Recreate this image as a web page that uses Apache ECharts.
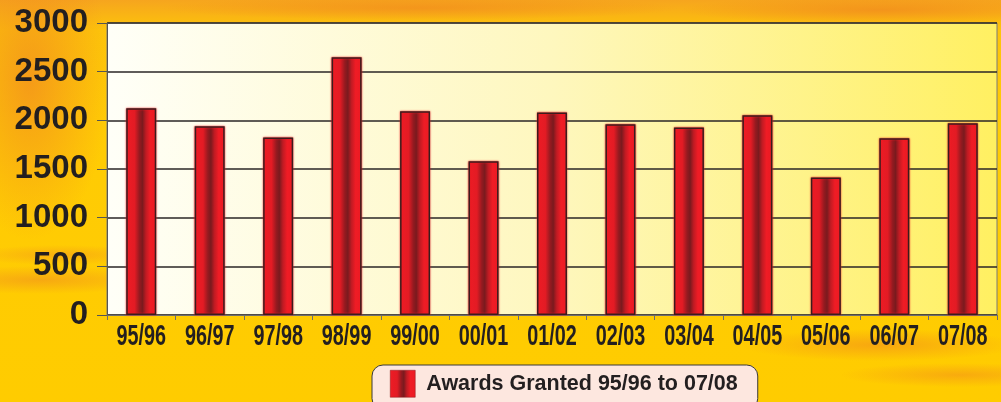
<!DOCTYPE html>
<html>
<head>
<meta charset="utf-8">
<script src="https://cdn.jsdelivr.net/npm/echarts@6/dist/echarts.min.js"></script>
<style>
html,body{margin:0;padding:0;width:1001px;height:402px;overflow:hidden;}
body{
  background:
    radial-gradient(ellipse 120px 14px at 40px 280px, rgba(240,140,30,0.55), rgba(240,140,30,0) 100%),
    radial-gradient(ellipse 90px 10px at 60px 255px, rgba(240,140,30,0.45), rgba(240,140,30,0) 100%),
    radial-gradient(ellipse 140px 16px at 880px 345px, rgba(240,130,30,0.5), rgba(240,130,30,0) 100%),
    radial-gradient(ellipse 120px 12px at 960px 375px, rgba(240,130,30,0.45), rgba(240,130,30,0) 100%),
    radial-gradient(ellipse 200px 14px at 880px 10px, rgba(240,130,30,0.6), rgba(240,130,30,0) 100%),
    radial-gradient(ellipse 260px 12px at 420px 8px, rgba(240,130,30,0.55), rgba(240,130,30,0) 100%),
    radial-gradient(ellipse 80px 160px at 30px 80px, rgba(242,140,30,0.75), rgba(242,140,30,0) 100%),
    linear-gradient(180deg, #F6A51E 0px, #FDC40A 30px, #FFCB05 120px, #FFCC00 402px);
}
#chart{width:1001px;height:402px;}
</style>
</head>
<body>
<div id="chart"></div>
<script>
const categories = ['95/96','96/97','97/98','98/99','99/00','00/01','01/02','02/03','03/04','04/05','05/06','06/07','07/08'];
const awards = [2125, 1940, 1824, 2647, 2094, 1580, 2081, 1960, 1926, 2053, 1412, 1816, 1971];
const yTicks = [0, 500, 1000, 1500, 2000, 2500, 3000];
const seriesName = 'Awards Granted 95/96 to 07/08';

const chart = echarts.init(document.getElementById('chart'), null, {renderer: 'canvas'});
const barGrad = new echarts.graphic.LinearGradient(0, 0, 1, 0, [
  {offset: 0, color: '#EE1C25'},
  {offset: 0.28, color: '#E31B24'},
  {offset: 0.44, color: '#951A20'},
  {offset: 0.54, color: '#7A1A1E'},
  {offset: 0.66, color: '#C01B23'},
  {offset: 0.8, color: '#EF1C25'},
  {offset: 1, color: '#EC1C24'}
]);
chart.setOption({
  backgroundColor: 'transparent',
  animation: false,
  grid: {
    left: 107, right: 4, top: 23, bottom: 87,
    show: true,
    borderWidth: 1,
    borderColor: '#7a7a7a',
    backgroundColor: new echarts.graphic.LinearGradient(0, 0, 1, 0, [
      {offset: 0, color: '#FFFFF8'},
      {offset: 0.5, color: '#FEF7BE'},
      {offset: 1, color: '#FFF061'}
    ])
  },
  legend: {
    data: [seriesName],
    left: 372, top: 365,
    padding: [5, 20, 12, 18],
    backgroundColor: '#FDE7DF',
    borderColor: '#3a3a3a',
    borderWidth: 1,
    borderRadius: 11,
    itemWidth: 25,
    itemHeight: 27,
    icon: 'rect',
    itemStyle: {borderColor: '#8a1a1e', borderWidth: 0.5},
    textStyle: {
      fontFamily: '"Liberation Sans", Arial, sans-serif',
      fontWeight: 'bold',
      fontSize: 21.5,
      color: '#231F20',
      padding: [0, 0, 0, 6]
    }
  },
  xAxis: {
    type: 'category',
    data: categories,
    axisLine: {lineStyle: {color: '#6e6e6e', width: 1}},
    axisTick: {show: true, length: 5, alignWithLabel: false, lineStyle: {color: '#6e6e6e'}},
    axisLabel: {show: false, interval: 0},
    splitLine: {show: false}
  },
  yAxis: {
    type: 'value',
    min: yTicks[0],
    max: yTicks[yTicks.length - 1],
    interval: yTicks[1] - yTicks[0],
    axisLine: {show: true, lineStyle: {color: '#555', width: 1}},
    axisTick: {show: true, length: 10, lineStyle: {color: '#555'}},
    axisLabel: {
      margin: 19,
      formatter: function (v) { return String(v); },
      fontFamily: '"Liberation Sans", Arial, sans-serif',
      fontWeight: 'bold',
      fontSize: 33,
      color: '#231F20'
    },
    splitLine: {show: true, lineStyle: {color: '#2a2626', width: 1.5}}
  },
  series: [{
    name: seriesName,
    type: 'bar',
    data: awards,
    barWidth: 30,
    itemStyle: {
      color: barGrad,
      borderColor: '#3b1c1d',
      borderWidth: 1.5,
      shadowColor: '#EE1C25',
      shadowBlur: 2
    }
  }, {
    // condensed category labels drawn under the x axis
    name: 'xlabels',
    type: 'custom',
    silent: true,
    clip: false,
    data: categories.map(function (c, i) { return [i, 0]; }),
    renderItem: function (params, api) {
      const p = api.coord([api.value(0), 0]);
      return {
        type: 'text',
        x: p[0],
        y: p[1] + 7,
        scaleX: 0.66,
        style: {
          text: categories[params.dataIndex],
          font: 'bold 30px "Liberation Sans", Arial, sans-serif',
          fill: '#231F20',
          align: 'center',
          verticalAlign: 'top'
        }
      };
    }
  }]
});
</script>
</body>
</html>
